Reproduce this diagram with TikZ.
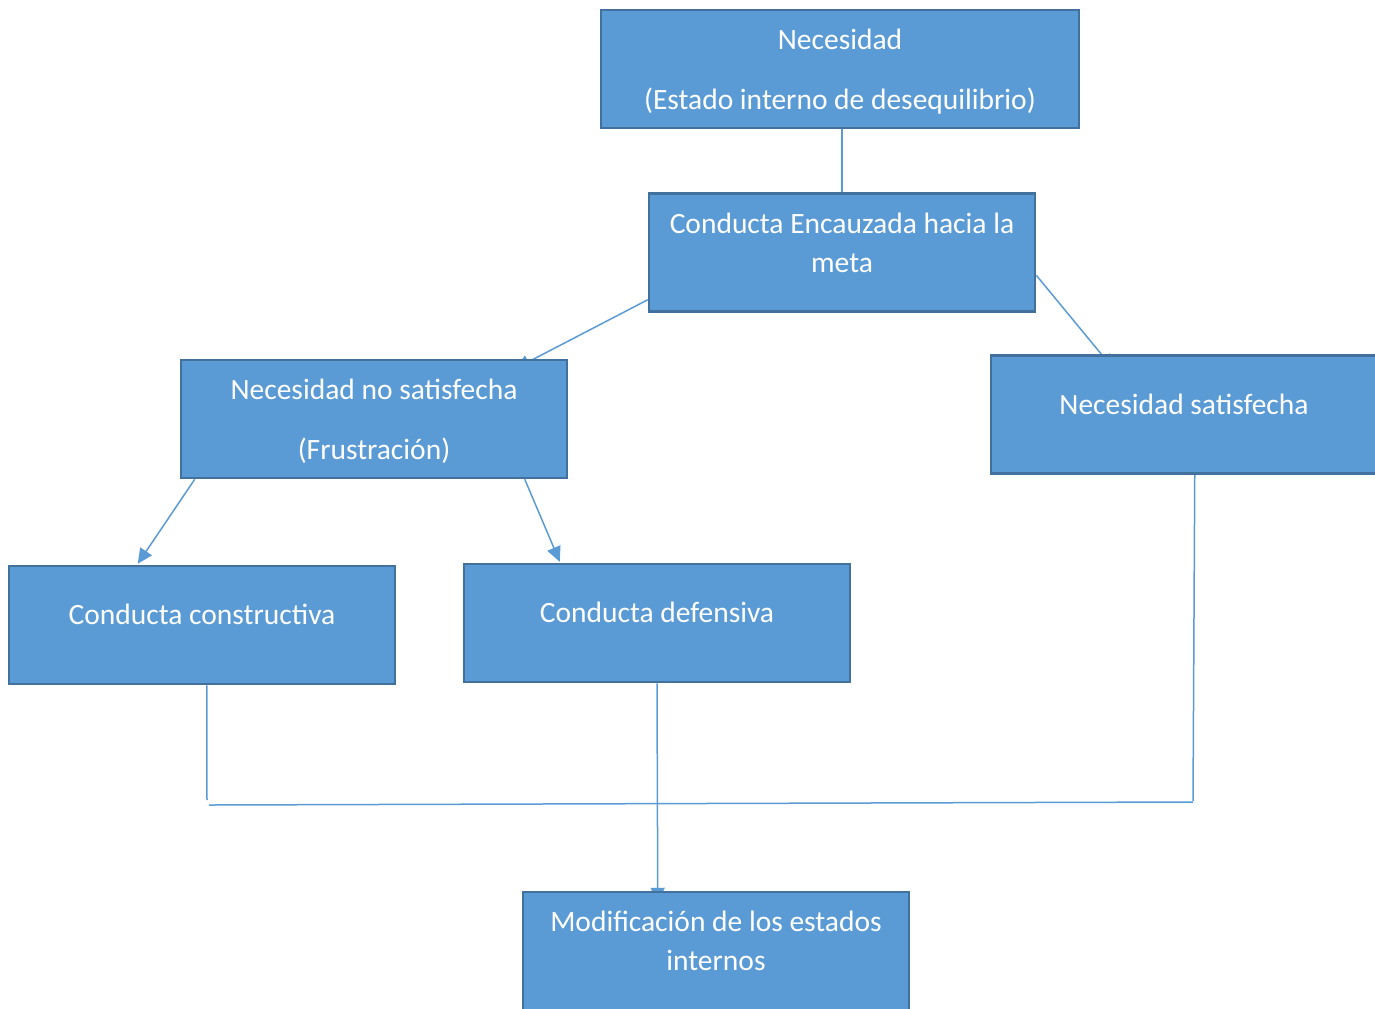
\documentclass[tikz,border=0pt]{standalone}
\usepackage{fontspec}
\setmainfont{Carlito}
\usetikzlibrary{calc,arrows.meta,backgrounds}
\definecolor{boxfill}{HTML}{5B9BD5}
\definecolor{boxline}{HTML}{41719C}
\definecolor{conn}{HTML}{5B9BD5}
\begin{document}
\begin{tikzpicture}[x=0.5pt,y=-0.5pt,
  box/.style={draw=boxline,fill=boxfill,line width=1.25pt,minimum width=193pt,minimum height=59pt,inner sep=0pt},
  txt/.style={text=white,align=center,inner sep=0pt,font=\fontsize{14.75}{19.5}\selectfont},
  link/.style={draw=conn,line width=0.75pt},
  arr/.style={link,-{Triangle[length=7.5pt,width=7pt]}}]
\useasboundingbox (0,0) rectangle (1375,1008);
% boxes
\node[box,minimum width=239pt] (nec) at (840,69) {};
\node[txt] (nect) at ([yshift=-1.2pt]nec.center) {Necesidad\\[10.5pt](Estado interno de desequilibrio)};
\node[box] (enc) at (842,252.5) {};
\node[txt] (enct) at ([yshift=4.7pt]enc.center) {Conducta Encauzada hacia la\\meta};
\node[box] (nns) at (374,419) {};
\node[txt] (nnst) at ([yshift=-1.2pt]nns.center) {Necesidad no satisfecha\\[10.5pt](Frustración)};
\node[box] (ns) at (1184,414.5) {};
\node[txt] (nst) at ([yshift=5pt]ns.center) {Necesidad satisfecha};
\node[box] (cc) at (202,625) {};
\node[txt] (cct) at ([yshift=5.5pt]cc.center) {Conducta constructiva};
\node[box] (cd) at (657,623) {};
\node[txt] (cdt) at ([yshift=5.5pt]cd.center) {Conducta defensiva};
\node[box] (mod) at (716,951) {};
\node[txt] (modt) at ([yshift=5pt]mod.center) {Modificación de los estados\\internos};
% junction coordinates
\coordinate (jl) at (207,800);
\coordinate (hl) at (209,805);
\coordinate (hr) at (1193,802);
\coordinate (jr) at (1193,801);
\begin{scope}[on background layer]
\draw[link] (enc.north |- nec.south) -- (enc.north);
\draw[arr] ($(enc.south west)+(0,-13)$) -- ($(nns.north)+(141,10)$);
\draw[arr] ($(enc.north east)+(0,83)$) -- ($(ns.north west)+(124,15)$);
\draw[arr] ($(nns.south west)+(15,0)$) -- ($(cc.north west)+(130,-1)$);
\draw[arr] ($(nns.south west)+(345,0)$) -- ($(cd.north west)+(97,-1)$);
\draw[link] ($(cc.south west)+(199,0)$) -- (jl);
\draw[link] (hl) -- (hr);
\draw[link] ($(ns.south west)+(205,0)$) -- (jr);
\draw[arr] (cd.south) -- ($(mod.north west)+(136,12)$);
\end{scope}
\end{tikzpicture}
\end{document}
